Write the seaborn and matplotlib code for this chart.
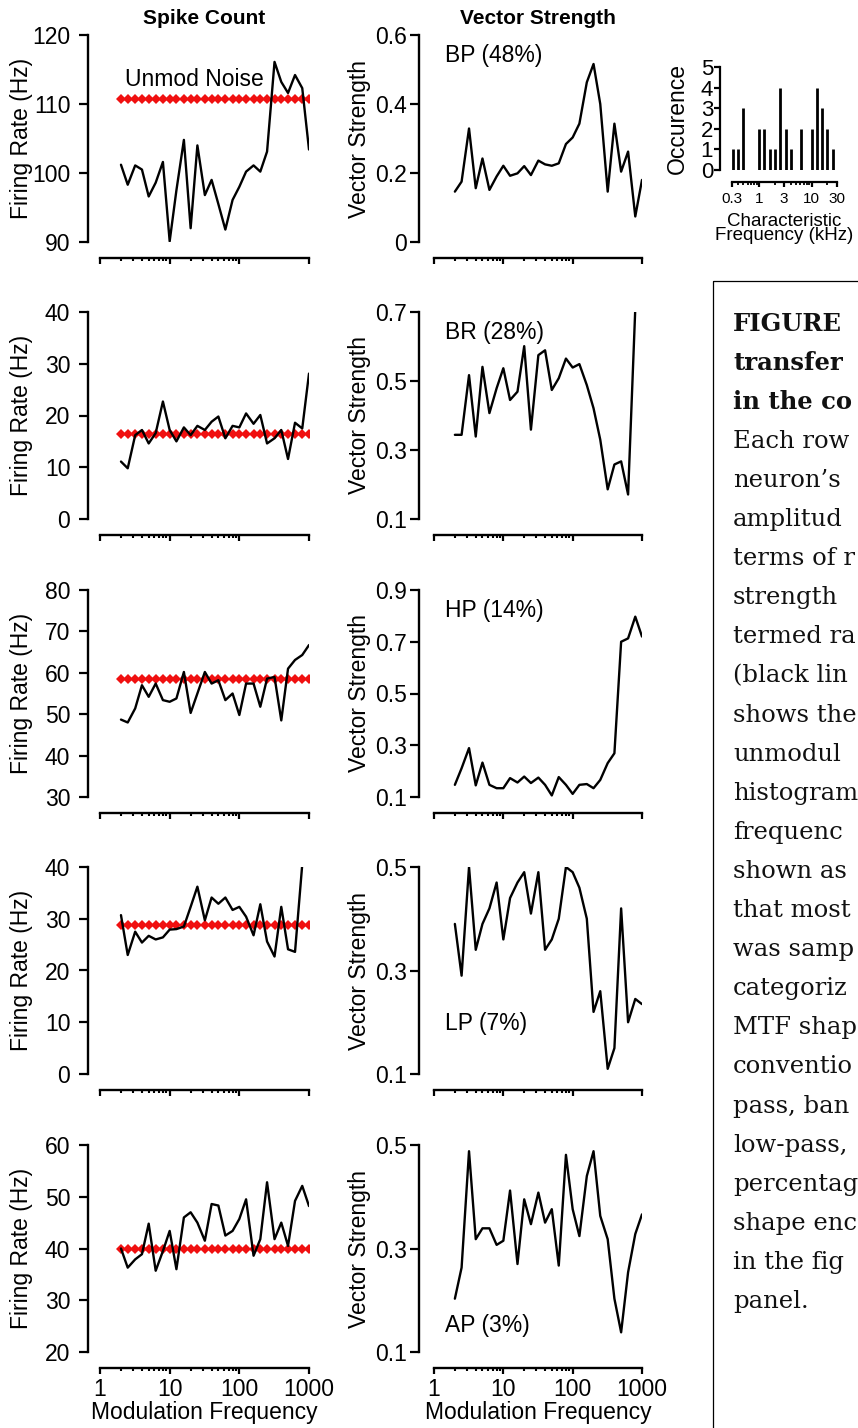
import matplotlib
matplotlib.use("Agg")
import matplotlib.pyplot as plt
from matplotlib.patches import Rectangle
from matplotlib.ticker import FixedLocator, NullFormatter
import seaborn as sns

# ---------------------------------------------------------------- data
mod_freq = [2, 2.5, 3.2, 4, 5, 6.3, 8, 10, 12.5, 16, 20, 25, 32, 40, 50, 63,
            80, 100, 125, 160, 200, 250, 320, 400, 500, 630, 800, 1000]

rate_bp = [101.2, 98.3, 101.1, 100.5, 96.6, 98.6, 101.6, 90.1, 97.5, 104.8,
           92.0, 104.0, 96.8, 99.0, 95.5, 91.8, 96.1, 98.0, 100.2, 101.1,
           100.2, 103.1, 116.1, 113.2, 111.6, 114.2, 112.3, 103.4]
vs_bp = [0.146, 0.175, 0.329, 0.156, 0.242, 0.151, 0.190, 0.221, 0.192, 0.199,
         0.220, 0.194, 0.236, 0.225, 0.221, 0.228, 0.284, 0.303, 0.343, 0.463,
         0.516, 0.400, 0.146, 0.343, 0.204, 0.262, 0.074, 0.180]

rate_br = [11.1, 9.8, 16.2, 17.2, 14.6, 16.6, 22.7, 17.2, 15.0, 17.7,
           16.2, 18.0, 17.2, 18.8, 19.8, 15.6, 18.0, 17.7, 20.4, 18.4,
           20.1, 14.6, 15.6, 17.2, 11.6, 18.6, 17.5, 28.1]
vs_br = [0.344, 0.344, 0.517, 0.339, 0.541, 0.407, 0.479, 0.537, 0.445, 0.469,
         0.601, 0.359, 0.575, 0.589, 0.474, 0.508, 0.565, 0.539, 0.549, 0.488,
         0.421, 0.330, 0.186, 0.258, 0.267, 0.171, 0.710, 0.760]

rate_hp = [48.7, 48.0, 51.4, 57.0, 54.2, 57.4, 53.4, 53.0, 53.8, 60.2,
           50.3, 55.0, 60.2, 57.4, 58.2, 53.4, 55.0, 49.8, 57.4, 57.4,
           51.8, 58.6, 59.0, 48.5, 61.0, 63.1, 64.3, 66.7]
vs_hp = [0.147, 0.211, 0.289, 0.145, 0.233, 0.147, 0.134, 0.134, 0.173, 0.156,
         0.179, 0.154, 0.175, 0.147, 0.106, 0.177, 0.147, 0.112, 0.147, 0.150,
         0.134, 0.166, 0.231, 0.269, 0.700, 0.713, 0.797, 0.720]

rate_lp = [30.7, 23.0, 27.5, 25.4, 26.7, 26.0, 26.4, 27.9, 28.0, 28.5,
           32.3, 36.2, 29.7, 34.1, 32.9, 34.1, 31.7, 32.3, 30.4, 26.8,
           32.8, 25.6, 22.7, 32.3, 24.1, 23.6, 40.5, 44.0]
vs_lp = [0.39, 0.29, 0.50, 0.34, 0.39, 0.42, 0.47, 0.36, 0.44, 0.47,
         0.49, 0.41, 0.49, 0.34, 0.36, 0.40, 0.50, 0.49, 0.46, 0.40,
         0.22, 0.26, 0.11, 0.15, 0.42, 0.20, 0.245, 0.235]

rate_ap = [40.0, 36.3, 37.9, 38.9, 44.8, 35.7, 39.5, 43.4, 36.0, 46.0,
           47.0, 45.0, 41.5, 48.6, 48.3, 42.5, 43.4, 45.7, 49.5, 38.6,
           41.8, 52.8, 41.8, 45.0, 40.5, 49.2, 52.1, 48.2]
vs_ap = [0.203, 0.263, 0.488, 0.318, 0.339, 0.339, 0.307, 0.315, 0.412, 0.270,
         0.395, 0.347, 0.408, 0.350, 0.376, 0.267, 0.481, 0.376, 0.324, 0.440,
         0.488, 0.363, 0.318, 0.203, 0.138, 0.254, 0.328, 0.366]

unmod_rate = [110.7, 16.4, 58.5, 28.8, 40.0]
mtf_labels = ["BP (48%)", "BR (28%)", "HP (14%)", "LP (7%)", "AP (3%)"]

rate_yticks = [[90, 100, 110, 120], [0, 10, 20, 30, 40],
               [30, 40, 50, 60, 70, 80], [0, 10, 20, 30, 40],
               [20, 30, 40, 50, 60]]
vs_yticks = [[0, 0.2, 0.4, 0.6], [0.1, 0.3, 0.5, 0.7],
             [0.1, 0.3, 0.5, 0.7, 0.9], [0.1, 0.3, 0.5], [0.1, 0.3, 0.5]]
vs_yticklabels = [["0", "0.2", "0.4", "0.6"], ["0.1", "0.3", "0.5", "0.7"],
                  ["0.1", "0.3", "0.5", "0.7", "0.9"], ["0.1", "0.3", "0.5"],
                  ["0.1", "0.3", "0.5"]]

x_major = [1, 10, 100, 1000]
x_major_labels = ["1", "10", "100", "1000"]
x_minor = [2, 3, 4, 5, 6, 7, 8, 9, 20, 30, 40, 50, 60, 70, 80, 90]

cf_khz = [0.32, 0.4, 0.5, 1.0, 1.26, 1.58, 2.0, 2.5, 3.2, 4.0, 6.3, 10, 12.6,
          15.8, 20, 25]
cf_count = [1, 1, 3, 2, 2, 1, 1, 4, 2, 1, 2, 2, 4, 3, 2, 1]
cf_major = [0.3, 1, 3, 10, 30]
cf_major_labels = ["0.3", "1", "3", "10", "30"]
cf_minor = [0.4, 0.5, 0.6, 0.7, 0.8, 0.9, 2, 4, 5, 6, 7, 8, 9, 20]

caption_lines = [
    ("FIGURE", "bold"), ("transfer", "bold"), ("in the co", "bold"),
    ("Each row", "normal"), ("neuron\u2019s", "normal"), ("amplitud", "normal"),
    ("terms of r", "normal"), ("strength", "normal"), ("termed ra", "normal"),
    ("(black lin", "normal"), ("shows the", "normal"), ("unmodul", "normal"),
    ("histogram", "normal"), ("frequenc", "normal"), ("shown as", "normal"),
    ("that most", "normal"), ("was samp", "normal"), ("categoriz", "normal"),
    ("MTF shap", "normal"), ("conventio", "normal"), ("pass, ban", "normal"),
    ("low-pass,", "normal"), ("percentag", "normal"), ("shape enc", "normal"),
    ("in the fig", "normal"), ("panel.", "normal"),
]

# ---------------------------------------------------------------- style
sns.set_theme(style="ticks")
plt.rcParams["font.family"] = ["Liberation Sans", "DejaVu Sans"]
plt.rcParams.update({
    "axes.linewidth": 1.6,
    "axes.edgecolor": "black",
    "xtick.color": "black",
    "ytick.color": "black",
    "text.color": "black",
    "axes.labelcolor": "black",
})

W, H, DPI = 858, 1428, 100
FS = 16.5
fig = plt.figure(figsize=(W / DPI, H / DPI), dpi=DPI)
fig.patch.set_facecolor("white")


def add_px_axes(left, top, right, bottom):
    return fig.add_axes([left / W, 1 - bottom / H, (right - left) / W,
                         (bottom - top) / H])


def style_panel(ax, yticks, yticklabels, bottom_row, left_out, ypad):
    ax.set_xscale("log")
    ax.set_xlim(1, 1000)
    ax.set_ylim(yticks[0], yticks[-1])
    ax.set_yticks(yticks)
    ax.set_yticklabels(yticklabels)
    for s in ("top", "right"):
        ax.spines[s].set_visible(False)
    ax.spines["left"].set_position(("outward", left_out))
    ax.spines["bottom"].set_position(("outward", 11.2))
    ax.spines["left"].set_linewidth(1.7)
    ax.spines["bottom"].set_linewidth(1.7)
    ax.xaxis.set_major_locator(FixedLocator(x_major))
    ax.xaxis.set_minor_locator(FixedLocator(x_minor))
    ax.xaxis.set_minor_formatter(NullFormatter())
    if bottom_row:
        ax.set_xticklabels(x_major_labels)
    else:
        ax.set_xticklabels([])
    ax.tick_params(axis="y", which="major", length=6.5, width=1.6,
                   labelsize=FS, pad=ypad, direction="out")
    ax.tick_params(axis="x", which="major", length=4.3, width=1.6,
                   labelsize=FS, pad=3, direction="out")
    ax.tick_params(axis="x", which="minor", length=2.4, width=1.5,
                   direction="out")
    ax.set_xlabel("")
    ax.set_ylabel("")
    ax.set_facecolor("none")
    ax.grid(False)


rate_rows = [rate_bp, rate_br, rate_hp, rate_lp, rate_ap]
vs_rows = [vs_bp, vs_br, vs_hp, vs_lp, vs_ap]
row_tops = [35, 312, 590, 867, 1145]
panel_h = 207

for r in range(5):
    top = row_tops[r]
    bottom = top + panel_h
    bottom_row = r == 4

    # ---- firing rate (spike count) panel
    ax = add_px_axes(100, top, 309, bottom)
    sns.lineplot(x=mod_freq, y=[unmod_rate[r]] * len(mod_freq), ax=ax,
                 color="#f01010", lw=1.0, marker="D", markersize=4.6,
                 markeredgewidth=0, legend=False)
    sns.lineplot(x=mod_freq, y=rate_rows[r], ax=ax, color="black", lw=1.7,
                 legend=False)
    style_panel(ax, rate_yticks[r], [str(v) for v in rate_yticks[r]],
                bottom_row, 8.4, 6.5)
    ax.text(-0.375, 0.5, "Firing Rate (Hz)", transform=ax.transAxes,
            rotation=90, ha="center", va="center", fontsize=FS)
    if r == 0:
        ax.text(0.5, 1.082, "Spike Count", transform=ax.transAxes,
                ha="center", va="center", fontsize=15, fontweight="bold")
        ax.text(0.12, 0.783, "Unmod Noise", transform=ax.transAxes,
                ha="left", va="center", fontsize=FS)
    if bottom_row:
        ax.text(0.5, -61 / panel_h, "Modulation Frequency",
                transform=ax.transAxes, ha="center", va="center", fontsize=FS)

    # ---- vector strength panel
    ax2 = add_px_axes(434, top, 642, bottom)
    sns.lineplot(x=mod_freq, y=vs_rows[r], ax=ax2, color="black", lw=1.7,
                 legend=False)
    style_panel(ax2, vs_yticks[r], vs_yticklabels[r], bottom_row, 10.6, 2.5)
    ax2.text(-0.356, 0.5, "Vector Strength", transform=ax2.transAxes,
             rotation=90, ha="center", va="center", fontsize=FS)
    label_y = 0.90 if r < 3 else (0.245 if r == 3 else 0.13)
    ax2.text(0.053, label_y, mtf_labels[r], transform=ax2.transAxes,
             ha="left", va="center", fontsize=FS)
    if r == 0:
        ax2.text(0.5, 1.082, "Vector Strength", transform=ax2.transAxes,
                 ha="center", va="center", fontsize=15, fontweight="bold")
    if bottom_row:
        ax2.text(0.5, -61 / panel_h, "Modulation Frequency",
                 transform=ax2.transAxes, ha="center", va="center",
                 fontsize=FS)

# ---- characteristic frequency histogram
hax = add_px_axes(731.7, 67, 836.7, 170)
hax.vlines(cf_khz, 0, cf_count, color="black", lw=2.0)
hax.set_xscale("log")
hax.set_xlim(0.3, 30)
hax.set_ylim(0, 5)
hax.set_yticks([0, 1, 2, 3, 4, 5])
hax.set_yticklabels(["0", "1", "2", "3", "4", "5"])
for s in ("top", "right"):
    hax.spines[s].set_visible(False)
hax.spines["left"].set_position(("outward", 8.4))
hax.spines["bottom"].set_position(("outward", 8.6))
hax.xaxis.set_major_locator(FixedLocator(cf_major))
hax.xaxis.set_minor_locator(FixedLocator(cf_minor))
hax.xaxis.set_minor_formatter(NullFormatter())
hax.set_xticklabels(cf_major_labels)
hax.tick_params(axis="y", length=4, width=1.6, labelsize=16, pad=1)
hax.tick_params(axis="x", which="major", length=3.5, width=1.6,
                labelsize=11, pad=4)
hax.tick_params(axis="x", which="minor", length=2, width=1.3)
hax.set_facecolor("none")
hax.text(-0.52, 0.5, "Occurence", transform=hax.transAxes, rotation=90,
         ha="center", va="center", fontsize=FS)
hax.text(0.5, -0.57, "Characteristic\nFrequency (kHz)",
         transform=hax.transAxes, ha="center", va="center", fontsize=13.5,
         linespacing=0.8)

# ---- caption box on the right
cap = fig.add_axes([712 / W, 0, (W - 712) / W, 1])
cap.set_xlim(712, W)
cap.set_ylim(H, 0)
cap.set_axis_off()
cap.add_patch(Rectangle((712.8, 281), 400, 1400, fill=False,
                        edgecolor="black", lw=0.9, clip_on=True))
line_y0, line_step = 324, 39.1
for i, (txt, weight) in enumerate(caption_lines):
    cap.text(733, line_y0 + i * line_step, txt, ha="left", va="center",
             fontsize=17.5, fontweight=weight, family="DejaVu Serif",
             color="#111111", clip_on=True)

fig.savefig("out.png", dpi=DPI, facecolor="white")
